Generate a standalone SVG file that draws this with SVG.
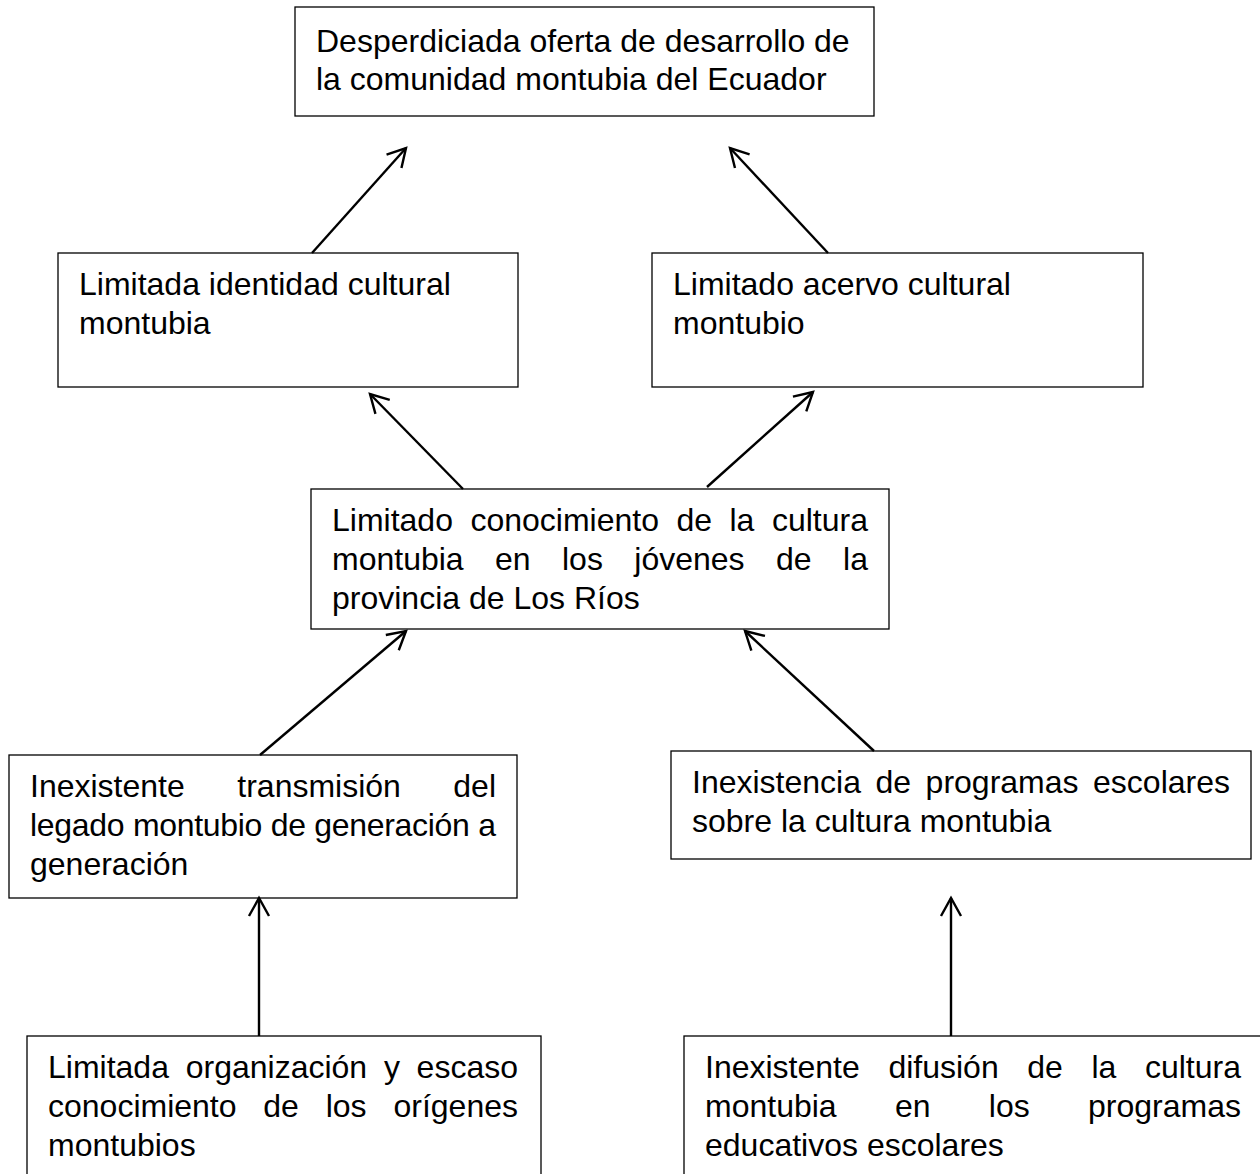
<svg xmlns="http://www.w3.org/2000/svg" width="1260" height="1174" viewBox="0 0 1260 1174">
<style>
.box{fill:#fff;stroke:#000;stroke-width:1.3}
.t{font-family:"Liberation Sans",Arial,sans-serif;font-size:32px;fill:#000}
.e{text-anchor:end}
.c{fill:none;stroke:#000;stroke-width:2.4}
</style>
<defs>
<marker id="ah" markerUnits="userSpaceOnUse" markerWidth="40" markerHeight="40" refX="0" refY="0" orient="auto" overflow="visible">
<path d="M-18,-10 L0,0 L-18,10" fill="none" stroke="#000" stroke-width="2.4"/>
</marker>
</defs>
<rect width="1260" height="1174" fill="#fff"/>
<g id="n1">
<rect class="box" x="295" y="7" width="579" height="109"/>
<text class="t" x="316" y="52">Desperdiciada oferta de desarrollo de</text>
<text class="t" x="316" y="90">la comunidad montubia del Ecuador</text>
</g>
<g id="n2">
<rect class="box" x="58" y="253" width="460" height="134"/>
<text class="t" x="79" y="295">Limitada identidad cultural</text>
<text class="t" x="79" y="334">montubia</text>
</g>
<g id="n3">
<rect class="box" x="652" y="253" width="491" height="134"/>
<text class="t" x="673" y="295">Limitado acervo cultural</text>
<text class="t" x="673" y="334">montubio</text>
</g>
<g id="n4">
<rect class="box" x="311" y="489" width="578" height="140"/>
<text class="t" y="531"><tspan x="332">Limitado</tspan><tspan x="470.4">conocimiento</tspan><tspan x="676.4">de</tspan><tspan x="729.5">la</tspan></text>
<text class="t e" x="868" y="531">cultura</text>
<text class="t" y="570"><tspan x="332">montubia</tspan><tspan x="495">en</tspan><tspan x="562">los</tspan><tspan x="634.3">jóvenes</tspan><tspan x="776">de</tspan></text>
<text class="t e" x="868" y="570">la</text>
<text class="t" x="332" y="609">provincia de Los Ríos</text>
</g>
<g id="n5">
<rect class="box" x="9" y="755" width="508" height="143"/>
<text class="t" y="797"><tspan x="30">Inexistente</tspan><tspan x="237.3">transmisión</tspan></text>
<text class="t e" x="496" y="797">del</text>
<text class="t" x="30" y="836" textLength="466" lengthAdjust="spacing">legado montubio de generación a</text>
<text class="t" x="30" y="875">generación</text>
</g>
<g id="n6">
<rect class="box" x="671" y="751" width="580" height="108"/>
<text class="t" y="793"><tspan x="692">Inexistencia</tspan><tspan x="875.5">de</tspan><tspan x="925.6">programas</tspan></text>
<text class="t e" x="1230" y="793">escolares</text>
<text class="t" x="692" y="832">sobre la cultura montubia</text>
</g>
<g id="n7">
<rect class="box" x="27" y="1036" width="514" height="160"/>
<text class="t" y="1078"><tspan x="48">Limitada</tspan><tspan x="185.7">organización</tspan><tspan x="383.9">y</tspan></text>
<text class="t e" x="518" y="1078">escaso</text>
<text class="t" y="1117"><tspan x="48">conocimiento</tspan><tspan x="263.3">de</tspan><tspan x="325.7">los</tspan></text>
<text class="t e" x="518" y="1117">orígenes</text>
<text class="t" x="48" y="1156">montubios</text>
</g>
<g id="n8">
<rect class="box" x="684" y="1036" width="600" height="160"/>
<text class="t" y="1078"><tspan x="705">Inexistente</tspan><tspan x="888.4">difusión</tspan><tspan x="1027.3">de</tspan><tspan x="1091.5">la</tspan></text>
<text class="t e" x="1241" y="1078">cultura</text>
<text class="t" y="1117"><tspan x="705">montubia</tspan><tspan x="894.9">en</tspan><tspan x="988.8">los</tspan></text>
<text class="t e" x="1241" y="1117">programas</text>
<text class="t" x="705" y="1156">educativos escolares</text>
</g>
<g id="connectors">
<line class="c" x1="312" y1="253" x2="406" y2="148" marker-end="url(#ah)"/>
<line class="c" x1="828" y1="253" x2="730" y2="148" marker-end="url(#ah)"/>
<line class="c" x1="463" y1="489" x2="370" y2="394" marker-end="url(#ah)"/>
<line class="c" x1="707" y1="487" x2="813" y2="392" marker-end="url(#ah)"/>
<line class="c" x1="260" y1="755" x2="406" y2="631" marker-end="url(#ah)"/>
<line class="c" x1="874" y1="751" x2="745" y2="631" marker-end="url(#ah)"/>
<line class="c" x1="259" y1="1036" x2="259" y2="898" marker-end="url(#ah)"/>
<line class="c" x1="951" y1="1036" x2="951" y2="898" marker-end="url(#ah)"/>
</g>
</svg>
